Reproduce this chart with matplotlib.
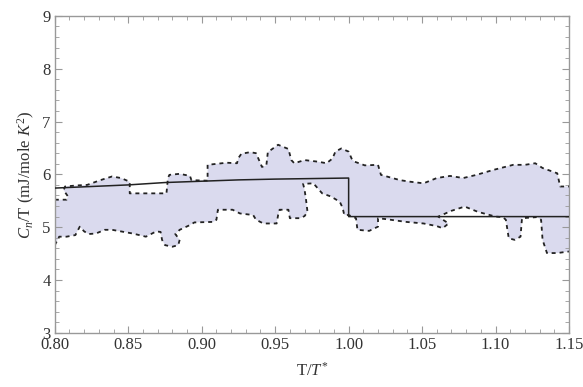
import matplotlib
matplotlib.use("Agg")
import matplotlib.pyplot as plt
from matplotlib.ticker import MultipleLocator

plt.rcParams["font.family"] = ["Liberation Serif", "DejaVu Serif"]
plt.rcParams["mathtext.fontset"] = "custom"
plt.rcParams["mathtext.rm"] = "Liberation Serif"
plt.rcParams["mathtext.it"] = "Liberation Serif:italic"

# upper edge of the shaded region (left -> right)
upper_x = [0.800, 0.808, 0.809, 0.806, 0.807, 0.815, 0.822, 0.831, 0.839, 0.845,
           0.851, 0.851, 0.876, 0.877, 0.878, 0.885, 0.892, 0.893, 0.904, 0.904,
           0.917, 0.924, 0.925, 0.927, 0.933, 0.937, 0.939, 0.941, 0.944, 0.945,
           0.952, 0.959, 0.961, 0.963, 0.970, 0.979, 0.985, 0.989, 0.991, 0.995,
           1.000, 1.002, 1.004, 1.011, 1.020, 1.022, 1.035, 1.042, 1.051, 1.060,
           1.069, 1.078, 1.087, 1.098, 1.112, 1.120, 1.127, 1.132, 1.142, 1.144,
           1.150]
upper_y = [5.52, 5.52, 5.58, 5.70, 5.77, 5.79, 5.80, 5.89, 5.96, 5.93,
           5.86, 5.64, 5.64, 5.93, 5.99, 6.01, 5.97, 5.89, 5.88, 6.18,
           6.22, 6.21, 6.31, 6.39, 6.42, 6.40, 6.27, 6.14, 6.17, 6.42,
           6.56, 6.48, 6.27, 6.21, 6.27, 6.24, 6.21, 6.30, 6.43, 6.49,
           6.43, 6.30, 6.24, 6.17, 6.18, 5.99, 5.89, 5.86, 5.83, 5.93,
           5.97, 5.93, 5.99, 6.08, 6.18, 6.18, 6.21, 6.12, 6.02, 5.77,
           5.77]

# lower edge of the shaded region (left -> right)
lower_x = [0.800, 0.803, 0.808, 0.814, 0.817, 0.820, 0.823, 0.828, 0.834, 0.839,
           0.845, 0.853, 0.862, 0.869, 0.872, 0.873, 0.875, 0.880, 0.884, 0.885,
           0.882, 0.885, 0.892, 0.895, 0.908, 0.910, 0.911, 0.921, 0.926, 0.935,
           0.937, 0.942, 0.951, 0.952, 0.953, 0.959, 0.960, 0.967, 0.970, 0.972,
           0.971, 0.970, 0.969, 0.976, 0.982, 0.988, 0.994, 0.996, 0.997, 1.000,
           1.005, 1.006, 1.014, 1.020, 1.020, 1.026, 1.039, 1.051, 1.060, 1.064,
           1.068, 1.061, 1.070, 1.079, 1.088, 1.100, 1.105, 1.107, 1.109, 1.113,
           1.117, 1.118, 1.128, 1.131, 1.132, 1.135, 1.142, 1.150]
lower_y = [4.66, 4.82, 4.82, 4.85, 5.01, 4.92, 4.87, 4.88, 4.95, 4.95,
           4.92, 4.88, 4.82, 4.92, 4.91, 4.76, 4.66, 4.63, 4.66, 4.76,
           4.87, 4.95, 5.04, 5.09, 5.10, 5.14, 5.33, 5.33, 5.26, 5.23,
           5.14, 5.07, 5.07, 5.23, 5.33, 5.33, 5.17, 5.17, 5.21, 5.29,
           5.52, 5.71, 5.82, 5.83, 5.64, 5.58, 5.48, 5.36, 5.23, 5.23,
           5.17, 4.95, 4.93, 5.01, 5.17, 5.15, 5.10, 5.07, 5.02, 4.98,
           5.07, 5.20, 5.31, 5.39, 5.29, 5.20, 5.19, 5.14, 4.79, 4.76,
           4.82, 5.17, 5.19, 5.14, 4.76, 4.51, 4.51, 4.54]

# solid curve
line_x = [0.80, 0.825, 0.85, 0.875, 0.90, 0.925, 0.95, 0.975, 1.0, 1.0, 1.15]
line_y = [5.74, 5.77, 5.80, 5.845, 5.87, 5.895, 5.91, 5.92, 5.93, 5.20, 5.20]

fig = plt.figure(figsize=(5.83, 3.87), dpi=100)
ax = fig.add_axes([0.094, 0.14, 0.882, 0.819])

poly_x = upper_x + lower_x[::-1]
poly_y = upper_y + lower_y[::-1]
ax.fill(poly_x, poly_y, color="#dadaee", lw=0, zorder=1)
ax.plot(upper_x, upper_y, color="#222222", lw=1.3, ls=(0, (2.2, 2.2)), zorder=2)
ax.plot(lower_x, lower_y, color="#222222", lw=1.3, ls=(0, (2.2, 2.2)), zorder=2)
ax.plot(line_x, line_y, color="#222222", lw=1.1, zorder=3)

ax.set_xlim(0.80, 1.15)
ax.set_ylim(3, 9)
ax.xaxis.set_major_locator(MultipleLocator(0.05))
ax.xaxis.set_minor_locator(MultipleLocator(0.01))
ax.yaxis.set_major_locator(MultipleLocator(1))
ax.yaxis.set_minor_locator(MultipleLocator(0.2))
ax.xaxis.set_major_formatter(plt.FuncFormatter(lambda v, p: f"{v:.2f}"))

for s in ax.spines.values():
    s.set_color("#999999")
    s.set_linewidth(1.0)
ax.tick_params(which="both", direction="in", top=True, right=True,
               color="#999999", labelsize=12, labelcolor="#333333")
ax.tick_params(which="major", length=5, width=0.8, pad=3)
ax.tick_params(which="minor", length=2.8, width=0.6)

ax.set_xlabel(r"T/$T^{*}$", fontsize=12, color="#333333", labelpad=6)
ax.set_ylabel(r"$C_n$/T (mJ/mole $K^2$)", fontsize=12, color="#333333", labelpad=4)

fig.savefig("out.png", dpi=100)
